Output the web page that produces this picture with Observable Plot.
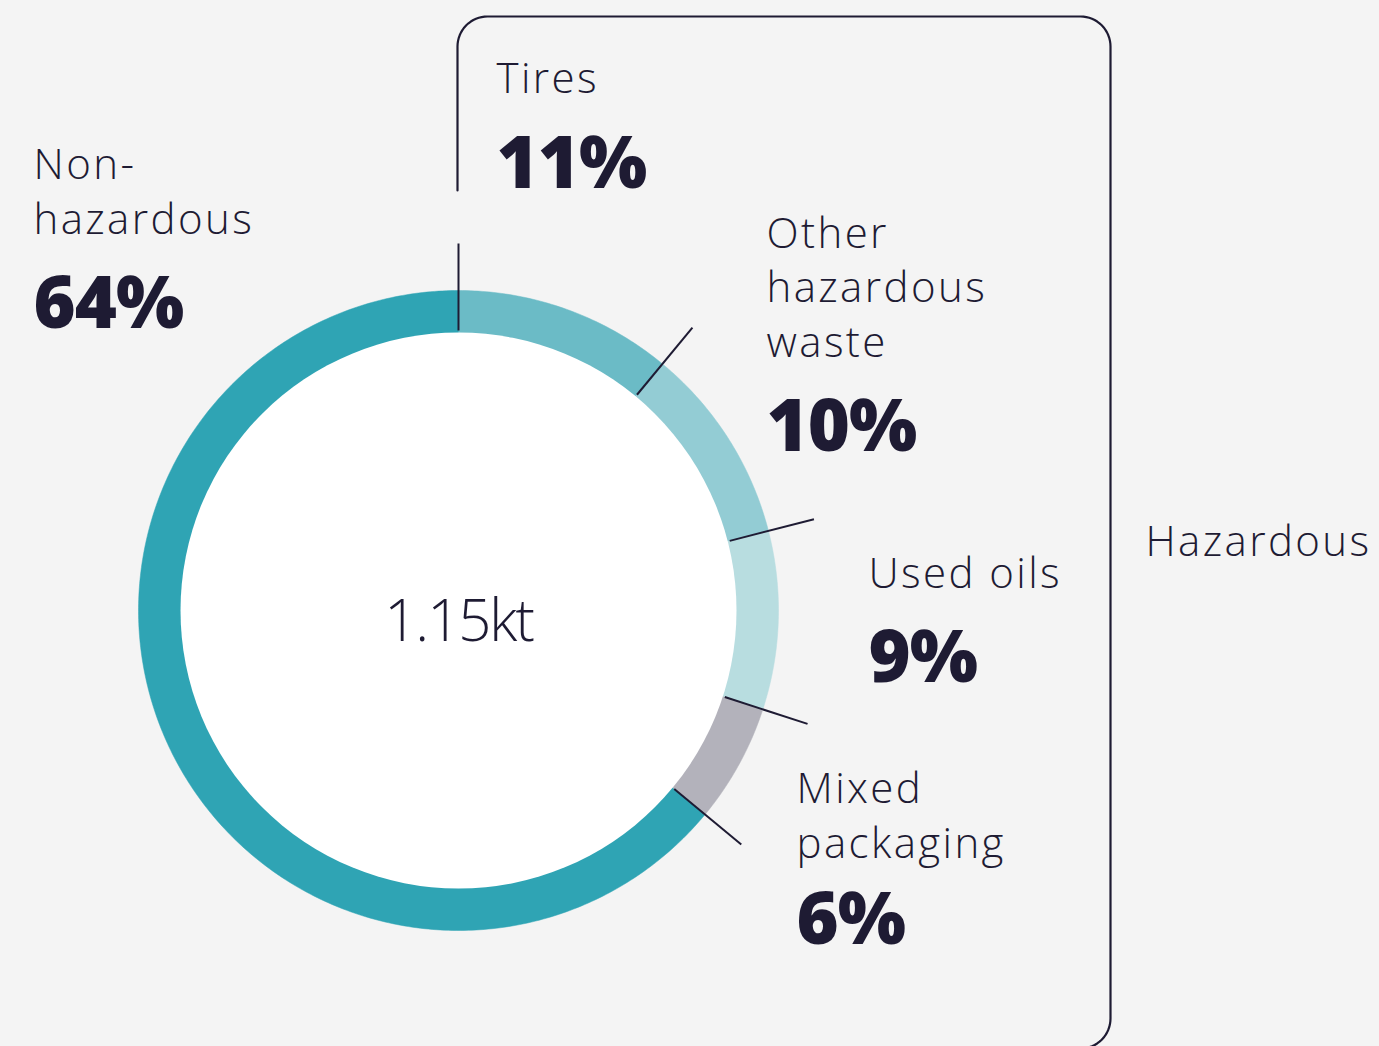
<!DOCTYPE html>
<html>
<head>
<meta charset="utf-8">
<script src="https://cdn.jsdelivr.net/npm/d3@7"></script>
<script src="https://cdn.jsdelivr.net/npm/@observablehq/plot@0.6"></script>
<style>
  html, body { margin: 0; padding: 0; background: #f4f4f4; }
  #chart svg { display: block; }
</style>
</head>
<body>
<div id="chart"></div>
<script>
// ---- data ----
const categories = ["Tires", "Other\nhazardous\nwaste", "Used oils", "Mixed\npackaging", "Non-\nhazardous"];
const shares = [11, 10, 9, 6, 64];
const shareLabels = ["11%", "10%", "9%", "6%", "64%"];
const colors = ["#6bbbc6", "#93ccd4", "#b8dde0", "#b3b2bb", "#2fa4b4"];
const totalLabel = "1.15kt";
const groupLabel = "Hazardous";

// ---- layout ----
const W = 1379, H = 1046;
const cx = 458, cy = 610, R = 320, r0 = 278;
const leadIn = 280, leadOut = 367;
const ink = "#1e1b33";
const labelPos = [
  {x: 496, y: 92, py: 187},
  {x: 766, y: 356, py: 450},
  {x: 868, y: 587, py: 681},
  {x: 796, y: 857, py: 943},
  {x: 33, y: 233, py: 327}
];

// angles from the data
const total = d3.sum(shares);
const cum = d3.cumsum(shares);
const starts = shares.map((v, i) => (cum[i] - v) / total * 2 * Math.PI);
const ends = cum.map(c => c / total * 2 * Math.PI);
const px = (rad, a) => cx + rad * Math.sin(a);
const py = (rad, a) => cy - rad * Math.cos(a);

function wedge(i) {
  const pts = [];
  const n = Math.max(8, Math.ceil((ends[i] - starts[i]) * 80));
  for (let k = 0; k <= n; k++) {
    const a = starts[i] + (ends[i] - starts[i]) * k / n;
    pts.push({x: px(R, a), y: py(R, a)});
  }
  for (let k = n; k >= 0; k--) {
    const a = starts[i] + (ends[i] - starts[i]) * k / n;
    pts.push({x: px(r0 - 2, a), y: py(r0 - 2, a)});
  }
  return pts;
}

const leaders = starts.slice(0, 5).map(a => ({
  x1: px(leadIn, a), y1: py(leadIn, a), x2: px(leadOut, a), y2: py(leadOut, a)
}));

// bracket with rounded corners
function bracketPts() {
  const rr = 30, L = 457, T = 16, Rx = 1110, B = 1048;
  const pts = [{x: L, y: 190}, {x: L, y: T + rr}];
  const arc = (ccx, ccy, a0, a1) => {
    for (let k = 0; k <= 16; k++) {
      const a = a0 + (a1 - a0) * k / 16;
      pts.push({x: ccx + rr * Math.cos(a), y: ccy + rr * Math.sin(a)});
    }
  };
  arc(L + rr, T + rr, Math.PI, 1.5 * Math.PI);
  pts.push({x: Rx - rr, y: T});
  arc(Rx - rr, T + rr, 1.5 * Math.PI, 2 * Math.PI);
  pts.push({x: Rx, y: B - rr});
  arc(Rx - rr, B - rr, 0, 0.5 * Math.PI);
  pts.push({x: Rx - 200, y: B});
  return pts;
}

const labelData = categories.map((c, i) => ({name: c, pct: shareLabels[i], ...labelPos[i]}));

const marks = [
  ...shares.map((v, i) => Plot.line(wedge(i), {x: "x", y: "y", fill: colors[i], stroke: colors[i], strokeWidth: 0.5, curve: "linear"})),
  Plot.dot([{x: cx, y: cy}], {x: "x", y: "y", r: r0, fill: "white", stroke: "none"}),
  Plot.link(leaders, {x1: "x1", y1: "y1", x2: "x2", y2: "y2", stroke: ink, strokeWidth: 2}),
  Plot.line(bracketPts(), {x: "x", y: "y", stroke: ink, strokeWidth: 2.2, fill: "none"}),
  Plot.text(labelData, {x: "x", y: "y", text: "name", textAnchor: "start", lineAnchor: "bottom", lineHeight: 1.29,
    fontSize: 42, fontWeight: 300, fill: ink, fontFamily: "Open Sans"}),
  Plot.text(labelData, {x: "x", y: "py", text: "pct", textAnchor: "start", lineAnchor: "bottom",
    fontSize: 72, fontWeight: 800, fill: ink, fontFamily: "Open Sans"}),
  Plot.text([totalLabel], {x: () => cx, y: () => 640, text: d => d, textAnchor: "middle", lineAnchor: "bottom",
    fontSize: 58, fontWeight: 300, fill: ink, fontFamily: "Open Sans"}),
  Plot.text([groupLabel], {x: () => 1145, y: () => 555, text: d => d, textAnchor: "start", lineAnchor: "bottom",
    fontSize: 42, fontWeight: 300, fill: ink, fontFamily: "Open Sans"})
];

const chart = Plot.plot({
  width: W, height: H,
  margin: 0,
  x: {domain: [0, W], range: [0, W], axis: null},
  y: {domain: [0, H], range: [0, H], axis: null},
  style: {background: "#f4f4f4", overflow: "visible"},
  marks
});
const s = d3.select(chart);
s.selectAll('g[font-size="42"]').attr("letter-spacing", "2.4px");
s.selectAll('g[font-size="72"]').attr("letter-spacing", "-1px");
s.selectAll('g[font-size="58"]').attr("letter-spacing", "-2px");
document.getElementById("chart").appendChild(chart);
</script>
</body>
</html>
